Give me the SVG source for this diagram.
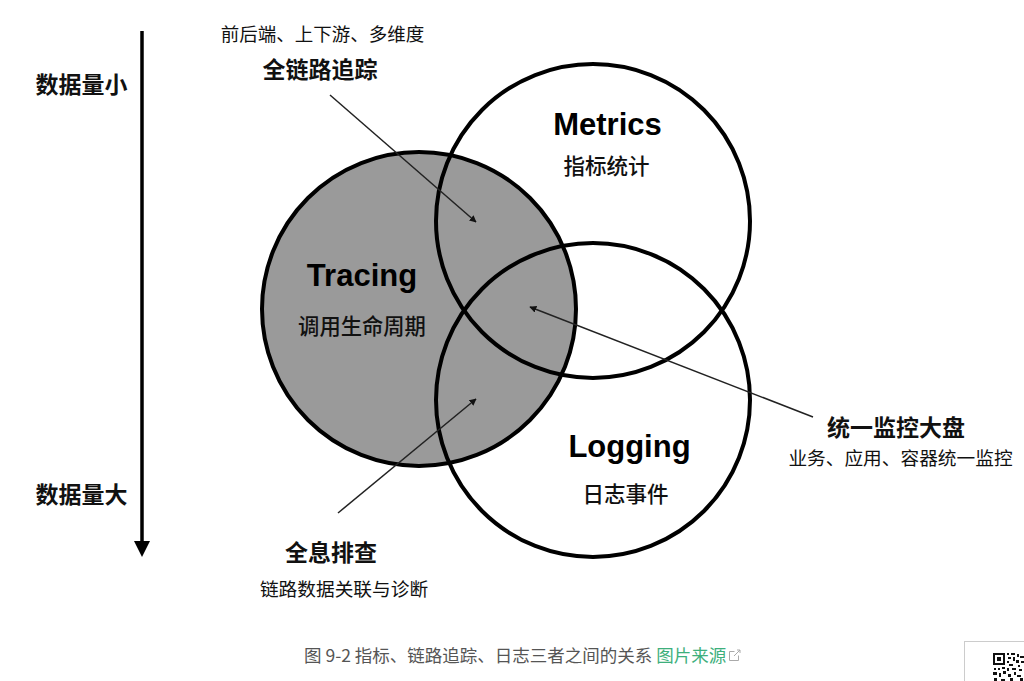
<svg xmlns="http://www.w3.org/2000/svg" width="1024" height="681" viewBox="0 0 1024 681">
<style>
  .cjk { font-family: "Noto Sans CJK SC", "Liberation Sans", sans-serif; fill: #111; }
  .b { font-weight: 700; }
  .m { font-weight: 500; }
  .lat { font-family: "Liberation Sans", "Noto Sans", sans-serif; font-weight: 700; fill: #000; }
  .ring { stroke: #000; stroke-width: 4; }
  .conn { stroke: #222; stroke-width: 1.5; fill: none; marker-end: url(#ah); }
</style>
<defs>
  <marker id="ah" viewBox="0 0 10 10" refX="9" refY="5" markerWidth="7" markerHeight="7" markerUnits="userSpaceOnUse" orient="auto">
    <path d="M0,0 L10,5 L0,10 z" fill="#111"/>
  </marker>
</defs>
<rect width="1024" height="681" fill="#fff"/>

<g id="axis">
  <line x1="142" y1="31" x2="142" y2="545" stroke="#000" stroke-width="3.5"/>
  <polygon points="134,541 150,541 142,557" fill="#000"/>
  <text class="cjk b" x="81.5" y="93" font-size="23" text-anchor="middle">数据量小</text>
  <text class="cjk b" x="81.5" y="503" font-size="23" text-anchor="middle">数据量大</text>
</g>

<g id="tracing">
  <circle class="ring" cx="419" cy="309" r="157" fill="#9a9a9a"/>
  <text class="lat" x="362" y="286" font-size="31" text-anchor="middle">Tracing</text>
  <text class="cjk m" x="362" y="334" font-size="21.3" text-anchor="middle">调用生命周期</text>
</g>

<g id="metrics">
  <circle class="ring" cx="593" cy="221" r="157" fill="none"/>
  <text class="lat" x="607.5" y="135" font-size="31" text-anchor="middle">Metrics</text>
  <text class="cjk m" x="606.5" y="174" font-size="21.5" text-anchor="middle">指标统计</text>
</g>

<g id="logging">
  <circle class="ring" cx="593" cy="400" r="157" fill="none"/>
  <text class="lat" x="629.5" y="457" font-size="31" text-anchor="middle">Logging</text>
  <text class="cjk m" x="625.5" y="502" font-size="21.5" text-anchor="middle">日志事件</text>
</g>

<g id="label-trace">
  <text class="cjk" x="322.5" y="40.5" font-size="18.5" text-anchor="middle" fill="#222">前后端、上下游、多维度</text>
  <text class="cjk b" x="320" y="78" font-size="23" text-anchor="middle">全链路追踪</text>
</g>

<g id="label-dashboard">
  <text class="cjk b" x="896" y="436" font-size="23" text-anchor="middle">统一监控大盘</text>
  <text class="cjk" x="900.5" y="465" font-size="18.7" text-anchor="middle" fill="#222">业务、应用、容器统一监控</text>
</g>

<g id="label-debug">
  <text class="cjk b" x="331" y="561" font-size="23" text-anchor="middle">全息排查</text>
  <text class="cjk" x="344" y="596" font-size="18.7" text-anchor="middle" fill="#222">链路数据关联与诊断</text>
</g>

<g id="connectors">
  <line class="conn" x1="330" y1="95" x2="476" y2="222"/>
  <line class="conn" x1="813" y1="417" x2="530" y2="307"/>
  <line class="conn" x1="338" y1="513" x2="476" y2="399"/>
</g>

<g id="caption">
  <text x="304" y="662" font-size="17.5" font-family="Noto Sans CJK SC, Liberation Sans, sans-serif" fill="#555">图 9-2 指标、链路追踪、日志三者之间的关系 <tspan fill="#3eaf7c">图片来源</tspan></text>
  <g stroke="#aaa" stroke-width="1" fill="none">
    <path d="M734.5,651.5 h-5 v9 h9 v-5"/>
    <path d="M734,656 L740,650 M737,650 h3 v3"/>
  </g>
</g>

<g id="qr">
  <rect x="964.5" y="641.5" width="70" height="50" fill="#fff" stroke="#ccc"/>
  <rect x="993" y="653" width="12" height="12" fill="#111"/>
  <rect x="995" y="655" width="8" height="8" fill="#fff"/>
  <rect x="997" y="657" width="4" height="4" fill="#111"/>
  <g fill="#111">
    <rect x="1007" y="653" width="2" height="2"/><rect x="1011" y="653" width="4" height="2"/><rect x="1017" y="654" width="2" height="3"/>
    <rect x="1008" y="657" width="3" height="2"/><rect x="1013" y="657" width="2" height="4"/><rect x="1020" y="656" width="4" height="2"/>
    <rect x="1007" y="661" width="2" height="2"/><rect x="1016" y="660" width="3" height="3"/><rect x="1021" y="661" width="3" height="2"/>
    <rect x="1009" y="664" width="4" height="2"/><rect x="1018" y="665" width="2" height="2"/>
    <rect x="994" y="668" width="2" height="2"/><rect x="998" y="668" width="2" height="2"/><rect x="1002" y="667" width="3" height="2"/>
    <rect x="1007" y="668" width="2" height="3"/><rect x="1012" y="668" width="4" height="2"/><rect x="1019" y="669" width="3" height="2"/>
    <rect x="993" y="672" width="4" height="3"/><rect x="999" y="673" width="2" height="4"/><rect x="1003" y="671" width="3" height="3"/>
    <rect x="1008" y="674" width="3" height="3"/><rect x="1014" y="672" width="2" height="3"/><rect x="1017" y="675" width="4" height="2"/>
    <rect x="994" y="678" width="3" height="3"/><rect x="1001" y="679" width="4" height="2"/><rect x="1010" y="678" width="3" height="3"/><rect x="1020" y="678" width="3" height="3"/>
  </g>
</g>
</svg>
